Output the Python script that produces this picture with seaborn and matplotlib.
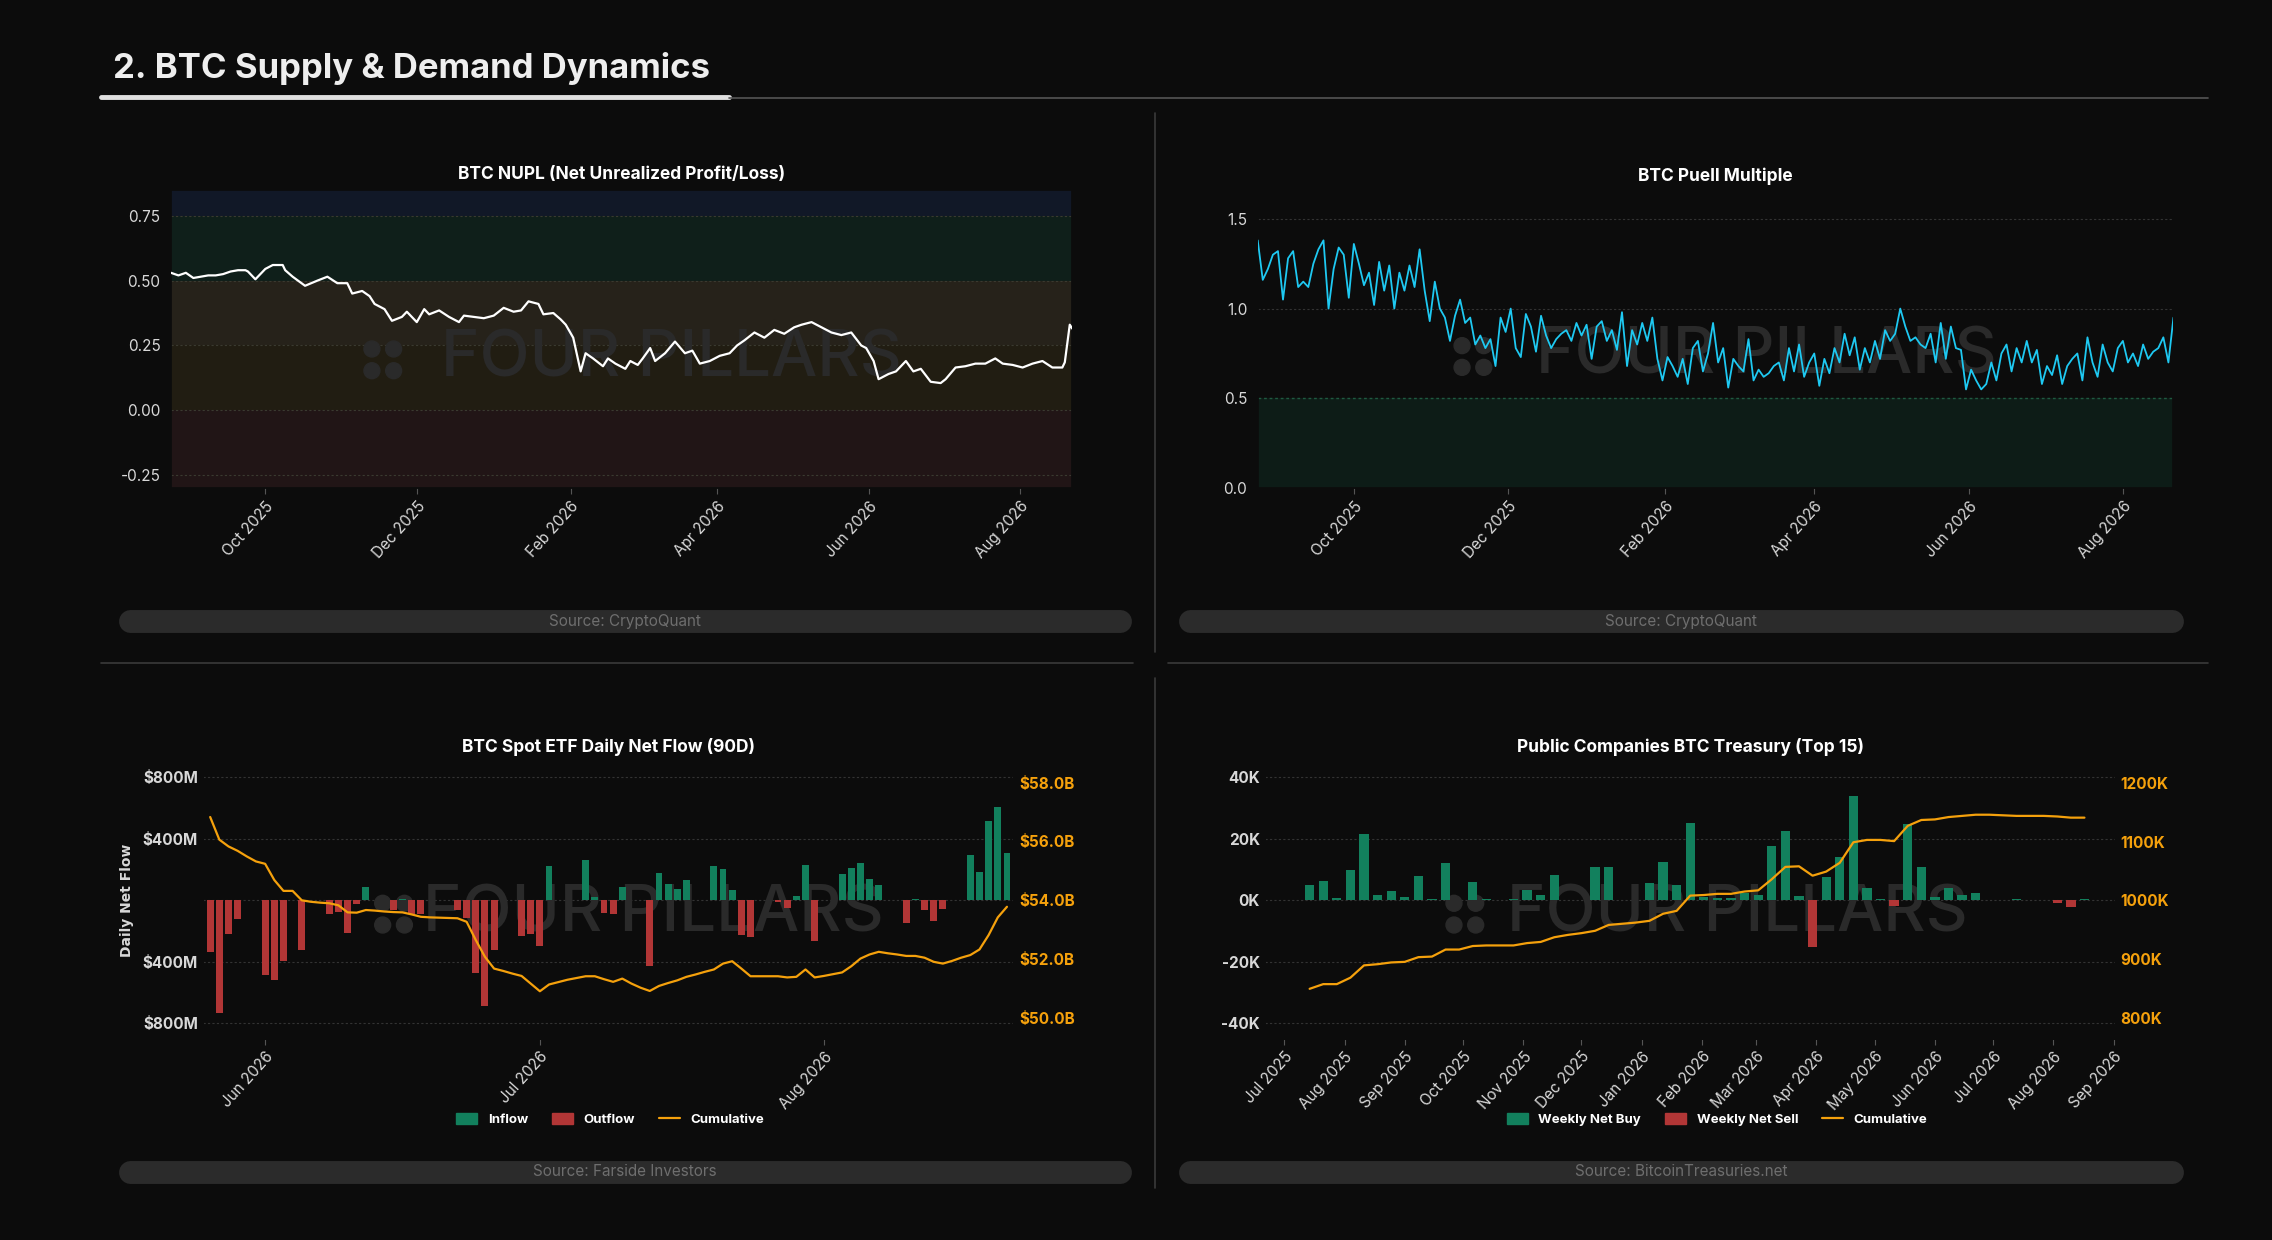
import pandas as pd
import matplotlib
matplotlib.use("Agg")
import matplotlib.pyplot as plt
import matplotlib.dates as mdates
from matplotlib.patches import Patch, Ellipse
from matplotlib.lines import Line2D
from matplotlib.ticker import FuncFormatter
import seaborn as sns

# ---- data: NUPL (day offset from 2025-08-24, value) ----
nupl_days = [0, 3, 6, 9, 12, 15, 18, 21, 24, 27, 30, 31, 34, 38, 41, 45, 46, 49, 54, 59, 63, 67, 71, 73, 77, 80,
             82, 86, 89, 93, 95, 99, 102, 104, 108, 112, 116, 118, 122, 126, 130, 134, 138, 141, 144, 148, 150,
             154, 157, 159, 162, 165, 167, 170, 174, 176, 179, 183, 185, 188, 190, 193, 195, 199, 203, 207, 210,
             213, 217, 221, 225, 228, 231, 235, 239, 243, 247, 251, 254, 258, 262, 266, 270, 274, 278, 280, 283,
             285, 289, 292, 296, 299, 302, 306, 310, 312, 316, 320, 324, 328, 332, 335, 339, 343, 347, 351, 355,
             359, 360, 362, 363]
nupl_vals = [0.53, 0.52, 0.53, 0.51, 0.515, 0.52, 0.52, 0.525, 0.535, 0.54, 0.54, 0.535, 0.505, 0.545, 0.56, 0.56,
             0.54, 0.515, 0.48, 0.50, 0.515, 0.49, 0.49, 0.45, 0.46, 0.44, 0.41, 0.39, 0.345, 0.36, 0.38, 0.34,
             0.39, 0.37, 0.385, 0.36, 0.34, 0.365, 0.36, 0.355, 0.365, 0.395, 0.38, 0.385, 0.42, 0.41, 0.37,
             0.375, 0.35, 0.33, 0.28, 0.15, 0.22, 0.20, 0.17, 0.20, 0.18, 0.16, 0.19, 0.175, 0.20, 0.24, 0.19,
             0.22, 0.265, 0.22, 0.23, 0.18, 0.19, 0.21, 0.22, 0.25, 0.27, 0.30, 0.28, 0.31, 0.295, 0.32, 0.33,
             0.34, 0.32, 0.30, 0.29, 0.30, 0.25, 0.24, 0.19, 0.12, 0.14, 0.15, 0.19, 0.15, 0.16, 0.11, 0.105,
             0.12, 0.165, 0.17, 0.18, 0.18, 0.20, 0.18, 0.175, 0.165, 0.18, 0.19, 0.165, 0.165, 0.185, 0.33, 0.315]

# ---- data: Puell multiple, every 2 days from 2025-08-24 ----
puell_vals = [1.38, 1.16, 1.22, 1.30, 1.32, 1.05, 1.28, 1.32, 1.12, 1.15, 1.12, 1.25, 1.33, 1.38, 1.00, 1.22,
              1.34, 1.30, 1.06, 1.36,
              1.25, 1.13, 1.20, 1.02, 1.26, 1.10, 1.24, 1.00, 1.20, 1.10, 1.24, 1.12, 1.33, 1.10, 0.93, 1.15,
              1.00, 0.95, 0.82,
              0.96, 1.05, 0.92, 0.95, 0.80, 0.85, 0.78, 0.83, 0.68, 0.95, 0.87, 1.00, 0.78, 0.73, 0.97, 0.90,
              0.76, 0.96, 0.85, 0.78, 0.83, 0.86,
              0.88, 0.82, 0.92, 0.85, 0.91, 0.72, 0.90, 0.93, 0.82, 0.88, 0.77, 0.98, 0.68, 0.88, 0.80, 0.92,
              0.82, 0.95, 0.72, 0.60,
              0.73, 0.68, 0.62, 0.72, 0.58, 0.78, 0.82, 0.65, 0.75, 0.92, 0.70, 0.78, 0.56, 0.72, 0.68, 0.65,
              0.83, 0.60, 0.66, 0.62,
              0.64, 0.68, 0.70, 0.60, 0.78, 0.65, 0.80, 0.62, 0.70, 0.75, 0.57, 0.72, 0.64, 0.78, 0.70, 0.86,
              0.74, 0.84, 0.66, 0.78,
              0.70, 0.82, 0.72, 0.88, 0.82, 0.86, 1.00, 0.90, 0.82, 0.84, 0.80, 0.78, 0.86, 0.70, 0.92, 0.72,
              0.90, 0.78, 0.77, 0.55,
              0.66, 0.60, 0.55, 0.58, 0.70, 0.60, 0.75, 0.80, 0.65, 0.78, 0.70, 0.82, 0.70, 0.77, 0.58, 0.68,
              0.63, 0.74, 0.58, 0.68,
              0.72, 0.75, 0.60, 0.84, 0.70, 0.62, 0.80, 0.70, 0.65, 0.78, 0.82, 0.70, 0.75, 0.68, 0.80, 0.72,
              0.76, 0.78, 0.84, 0.70, 0.95]

# ---- data: ETF daily net flow ($M), daily from 2026-05-26 ----
etf_flow = [-335, -733, -222, -124, 0, 0, -483, -520, -396, 2, -324, 0, 0, -91, -76, -211, -22, 85, 0, 0,
            -65, 10, -91, -91, 0, 0, 0, -65, -113, -470, -689, -324, 0, 0, -230, -222, -296, 222, 0, 0,
            0, 263, 20, -85, -91, 87, 0, 0, -426, 178, 107, 76, 130, 0, 0, 224, 202, 67, -226, -241,
            0, 0, -11, -48, 30, 230, -265, 0, 0, 170, 211, 241, 137, 100, 0, 0, -146, 7, -61, -133,
            -54, 0, 0, 296, 187, 515, 604, 307]
etf_cum = [56.83, 56.06, 55.83, 55.68, 55.49, 55.32, 55.24, 54.69, 54.32, 54.32, 54.00, 53.95, 53.92, 53.90,
           53.83, 53.59, 53.58, 53.67, 53.65, 53.62, 53.60, 53.59, 53.52, 53.44, 53.42, 53.41, 53.40, 53.39,
           53.27, 52.65, 52.08, 51.68, 51.60, 51.51, 51.43, 51.17, 50.91, 51.14, 51.22, 51.30, 51.36, 51.42,
           51.42, 51.32, 51.23, 51.34, 51.17, 51.03, 50.92, 51.09, 51.19, 51.28, 51.40, 51.48, 51.57, 51.65,
           51.85, 51.93, 51.68, 51.42, 51.42, 51.42, 51.42, 51.38, 51.40, 51.65, 51.38, 51.43, 51.49, 51.55,
           51.76, 52.02, 52.16, 52.25, 52.20, 52.16, 52.11, 52.11, 52.05, 51.91, 51.85, 51.94, 52.05, 52.14,
           52.33, 52.82, 53.42, 53.78]

# ---- data: public companies treasury (K BTC), weekly from 2025-07-14 ----
tr_weekly = [5.0, 6.2, 0.8, 9.9, 21.6, 1.7, 3.1, 1.0, 8.0, 0.5, 12.1, 0.2, 6.0, 0.5, 0.2, 0.4, 3.2, 1.8, 8.3,
             0, 0, 10.7, 10.7, 0, 0, 5.7, 12.3, 5.1, 25.2, 1.2, 0.7, 0.9, 2.3, 1.7, 17.8, 22.5, 1.4, -15.1,
             7.7, 14.1, 34.0, 4.0, 0.5, -1.8, 24.8, 10.8, 1.1, 4.0, 1.6, 2.3, 0, 0, 0.4, 0.1, 0.1, -0.8,
             -2.3, 0.4]
tr_cum = [849, 857, 857, 868, 889, 891, 894, 895, 903, 904, 916, 916, 922, 923, 923, 923, 927, 929, 937, 941,
          944, 948, 958, 960, 962, 965, 977, 982, 1008, 1009, 1011, 1011, 1015, 1017, 1036, 1057, 1058, 1042,
          1049, 1064, 1099, 1103, 1103, 1101, 1127, 1137, 1138, 1142, 1144, 1146, 1146, 1145, 1144, 1144,
          1144, 1143, 1141, 1141]

BG = "#0c0c0c"
GREEN = "#12805d"
RED = "#b23636"
ORANGE = "#f5a10c"
CYAN = "#1ec9f2"
TXT = "#d8d8d8"
WM = "#2a2a2a"

sns.set_theme(style="dark", rc={
    "figure.facecolor": BG, "axes.facecolor": BG, "savefig.facecolor": BG,
    "axes.edgecolor": BG, "text.color": TXT, "xtick.color": TXT, "ytick.color": TXT,
    "axes.labelcolor": TXT, "xtick.bottom": True, "xtick.major.size": 4, "xtick.major.width": 0.8,
    "patch.edgecolor": "none",
})
plt.rcParams["font.family"] = ["Inter", "DejaVu Sans"]

fig = plt.figure(figsize=(22.72, 12.4), dpi=100)
W, H = 1568.0, 856.0


def fx(x):
    return x / W


def fy(y):
    return 1 - y / H


# header
fig.text(fx(78), fy(47), "2. BTC Supply & Demand Dynamics", fontsize=25, fontweight="bold",
         color="#eeeeee", va="center", ha="left")
fig.add_artist(Line2D([fx(70), fx(503)], [fy(67), fy(67)], color="#e0e0e0", lw=3.5))
fig.add_artist(Line2D([fx(503), fx(1524)], [fy(67.5), fy(67.5)], color="#555555", lw=1.2))
# separators
fig.add_artist(Line2D([fx(797), fx(797)], [fy(78), fy(450)], color="#3a3a3a", lw=1.2))
fig.add_artist(Line2D([fx(797), fx(797)], [fy(468), fy(820)], color="#3a3a3a", lw=1.2))
fig.add_artist(Line2D([fx(70), fx(782)], [fy(458), fy(458)], color="#3a3a3a", lw=1.2))
fig.add_artist(Line2D([fx(806), fx(1524)], [fy(458), fy(458)], color="#3a3a3a", lw=1.2))


def source_pill(x0, x1, yc, label):
    # pill drawn as a thick line with round caps
    fig.add_artist(Line2D([fx(x0 + 8), fx(x1 - 8)], [fy(yc), fy(yc)], color="#2b2b2b", lw=16.5,
                          solid_capstyle="round"))
    fig.text(fx((x0 + x1) / 2), fy(yc), label, color="#6e6e6e", fontsize=11, ha="center", va="center")


def watermark(ax, yc=0.45):
    ax.text(0.555, yc, "FOUR PILLARS", transform=ax.transAxes, fontsize=47, fontweight="medium",
            color=WM, ha="center", va="center", zorder=1)
    ax_w = ax.get_position().width * W
    ax_h = ax.get_position().height * H
    r = 5.5
    for dx in (-1, 1):
        for dy in (-1, 1):
            cx = 0.235 + dx * 7.5 / ax_w
            cy = yc + dy * 7.5 / ax_h
            ax.add_patch(Ellipse((cx, cy), 2 * r / ax_w, 2 * r / ax_h, transform=ax.transAxes,
                                 color=WM, zorder=1))


def style_ax(ax):
    ax.tick_params(axis="both", labelsize=11, length=4, colors=TXT)
    ax.tick_params(axis="x", color="#555555")
    for lab in ax.get_xticklabels():
        lab.set_rotation(48)
        lab.set_ha("right")
        lab.set_rotation_mode("anchor")
    ax.set_xlabel("")
    ax.set_ylabel("")
    ax.grid(False)


# ---- NUPL ----
ax1 = fig.add_axes([fx(118), fy(337), fx(740 - 118), (337 - 131) / H])
nupl = pd.DataFrame({"date": pd.Timestamp("2025-08-24") + pd.to_timedelta(nupl_days, unit="D"),
                     "nupl": nupl_vals})
for lo, hi, c in [(0.75, 0.85, "#111827"), (0.5, 0.75, "#0f1f1a"), (0.25, 0.5, "#26221a"),
                  (0.0, 0.25, "#211d12"), (-0.30, 0.0, "#211516")]:
    ax1.axhspan(lo, hi, color=c, zorder=0, lw=0)
for yv in [0.75, 0.5, 0.25, 0.0, -0.25]:
    ax1.axhline(yv, color="#3a3a30", lw=0.8, ls=(0, (2, 2)), zorder=0.5)
watermark(ax1, 0.43)
sns.lineplot(data=nupl, x="date", y="nupl", ax=ax1, color="white", lw=1.6, zorder=3)
ax1.set_ylim(-0.30, 0.85)
ax1.set_yticks([-0.25, 0, 0.25, 0.5, 0.75])
ax1.set_yticklabels(["-0.25", "0.00", "0.25", "0.50", "0.75"])
ax1.set_xlim(nupl["date"].iloc[0], nupl["date"].iloc[-1])
ax1.xaxis.set_major_locator(mdates.MonthLocator(bymonth=[2, 4, 6, 8, 10, 12]))
ax1.xaxis.set_major_formatter(mdates.DateFormatter("%b %Y"))
style_ax(ax1)
ax1.set_title("BTC NUPL (Net Unrealized Profit/Loss)", fontsize=12.5, fontweight="bold", color="white", pad=8)

# ---- Puell ----
ax2 = fig.add_axes([fx(868), fy(337), fx(1500 - 868), (337 - 143.6) / H])
puell = pd.DataFrame({"date": pd.date_range("2025-08-24", periods=len(puell_vals), freq="2D"),
                      "puell": puell_vals})
ax2.axhspan(0, 0.5, color="#0d1c17", zorder=0, lw=0)
for yv in [1.0, 1.5]:
    ax2.axhline(yv, color="#333333", lw=0.8, ls=(0, (2, 2)), zorder=0.5)
ax2.axhline(0.5, color="#1f5a40", lw=1.0, ls=(0, (2, 2)), zorder=0.5)
watermark(ax2, 0.47)
sns.lineplot(data=puell, x="date", y="puell", ax=ax2, color=CYAN, lw=1.3, zorder=3)
ax2.set_ylim(0, 1.56)
ax2.set_yticks([0, 0.5, 1.0, 1.5])
ax2.set_yticklabels(["0.0", "0.5", "1.0", "1.5"])
ax2.set_xlim(puell["date"].iloc[0], puell["date"].iloc[-1])
ax2.xaxis.set_major_locator(mdates.MonthLocator(bymonth=[2, 4, 6, 8, 10, 12]))
ax2.xaxis.set_major_formatter(mdates.DateFormatter("%b %Y"))
style_ax(ax2)
ax2.set_title("BTC Puell Multiple", fontsize=12.5, fontweight="bold", color="white", y=1.065)

source_pill(82, 781, 429, "Source: CryptoQuant")
source_pill(813, 1507, 429, "Source: CryptoQuant")

# ---- ETF ----
ax3 = fig.add_axes([fx(140), fy(717), fx(700 - 140), (717 - 526) / H])
etf = pd.DataFrame({"date": pd.date_range("2026-05-26", periods=len(etf_flow), freq="D"),
                    "flow": etf_flow, "cum": etf_cum})
for yv in [-800, -400, 0, 400, 800]:
    ax3.axhline(yv, color="#333333", lw=0.8, ls=(0, (2, 2)), zorder=0.5)
watermark(ax3, 0.45)
colors = [GREEN if v >= 0 else RED for v in etf["flow"]]
ax3.bar(etf["date"], etf["flow"], width=0.75, color=colors, edgecolor="none", linewidth=0, zorder=2)
ax3.set_ylim(-900, 900)
ax3.set_yticks([-800, -400, 400, 800])
ax3.yaxis.set_major_formatter(FuncFormatter(lambda v, p: f"${abs(v):.0f}M"))
ax3.set_xlim(etf["date"].iloc[0] - pd.Timedelta(days=0.8), etf["date"].iloc[-1] + pd.Timedelta(days=0.8))
ax3b = ax3.twinx()
sns.lineplot(data=etf, x="date", y="cum", ax=ax3b, color=ORANGE, lw=1.6, zorder=3)
ax3b.set_ylim(49.3, 58.7)
ax3b.set_yticks([50, 52, 54, 56, 58])
ax3b.yaxis.set_major_formatter(FuncFormatter(lambda v, p: f"${v:.1f}B"))
ax3b.tick_params(axis="y", colors=ORANGE, labelsize=11, length=0)
for lab in ax3b.get_yticklabels():
    lab.set_fontweight("bold")
ax3b.set_ylabel("")
ax3b.grid(False)
ax3.xaxis.set_major_locator(mdates.MonthLocator())
ax3.xaxis.set_major_formatter(mdates.DateFormatter("%b %Y"))
style_ax(ax3)
for lab in ax3.get_yticklabels():
    lab.set_fontweight("bold")
ax3.tick_params(axis="y", length=0)
ax3.set_ylabel("Daily Net Flow", fontsize=10, fontweight="bold", color=TXT, labelpad=6,
               family=["DejaVu Sans"])
ax3.set_title("BTC Spot ETF Daily Net Flow (90D)", fontsize=12.5, fontweight="bold", color="white", y=1.005)
leg_h = [Patch(color=GREEN, label="Inflow"), Patch(color=RED, label="Outflow"),
         Line2D([], [], color=ORANGE, lw=1.6, label="Cumulative")]
fig.legend(handles=leg_h, loc="center", bbox_to_anchor=(fx(421), fy(773)), ncol=3, frameon=False,
           labelcolor="white", handlelength=1.6, handleheight=0.8, columnspacing=1.8,
           prop={"weight": "bold", "size": 9.5})

# ---- Treasury ----
ax4 = fig.add_axes([fx(873), fy(717), fx(1460 - 873), (717 - 526) / H])
tr = pd.DataFrame({"date": pd.date_range("2025-07-14", periods=len(tr_weekly), freq="7D"),
                   "weekly": tr_weekly, "cum": tr_cum})
for yv in [-40, -20, 0, 20, 40]:
    ax4.axhline(yv, color="#333333", lw=0.8, ls=(0, (2, 2)), zorder=0.5)
watermark(ax4, 0.45)
colors = [GREEN if v >= 0 else RED for v in tr["weekly"]]
ax4.bar(tr["date"], tr["weekly"], width=4.8, color=colors, edgecolor="none", linewidth=0, zorder=2)
ax4.set_ylim(-45, 45)
ax4.set_yticks([-40, -20, 0, 20, 40])
ax4.yaxis.set_major_formatter(FuncFormatter(lambda v, p: f"{v:.0f}K"))
ax4.set_xlim(pd.Timestamp("2025-06-21"), pd.Timestamp("2026-09-02"))
ax4b = ax4.twinx()
sns.lineplot(data=tr, x="date", y="cum", ax=ax4b, color=ORANGE, lw=1.6, zorder=3)
ax4b.set_ylim(764, 1236)
ax4b.set_yticks([800, 900, 1000, 1100, 1200])
ax4b.yaxis.set_major_formatter(FuncFormatter(lambda v, p: f"{v:.0f}K"))
ax4b.tick_params(axis="y", colors=ORANGE, labelsize=11, length=0)
for lab in ax4b.get_yticklabels():
    lab.set_fontweight("bold")
ax4b.set_ylabel("")
ax4b.grid(False)
ax4.xaxis.set_major_locator(mdates.MonthLocator())
ax4.xaxis.set_major_formatter(mdates.DateFormatter("%b %Y"))
style_ax(ax4)
for lab in ax4.get_yticklabels():
    lab.set_fontweight("bold")
ax4.tick_params(axis="y", length=0)
ax4.set_title("Public Companies BTC Treasury (Top 15)", fontsize=12.5, fontweight="bold", color="white",
              y=1.005)
leg_h = [Patch(color=GREEN, label="Weekly Net Buy"), Patch(color=RED, label="Weekly Net Sell"),
         Line2D([], [], color=ORANGE, lw=1.6, label="Cumulative")]
fig.legend(handles=leg_h, loc="center", bbox_to_anchor=(fx(1185), fy(773)), ncol=3, frameon=False,
           labelcolor="white", handlelength=1.6, handleheight=0.8, columnspacing=1.8,
           prop={"weight": "bold", "size": 9.5})

source_pill(82, 781, 809, "Source: Farside Investors")
source_pill(813, 1507, 809, "Source: BitcoinTreasuries.net")

fig.savefig("out.png", dpi=100, facecolor=BG)
